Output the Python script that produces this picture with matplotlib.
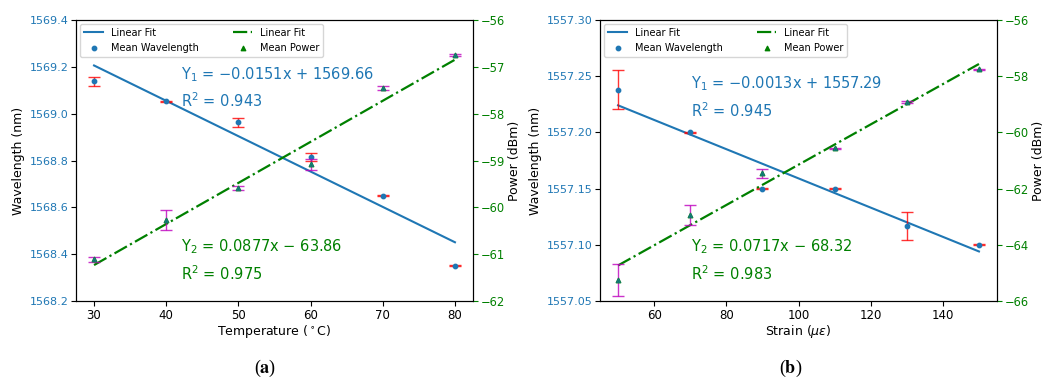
import numpy as np
import matplotlib
matplotlib.use("Agg")
import matplotlib.pyplot as plt
from matplotlib.ticker import FormatStrFormatter

# panel (a): temperature
temp = [30, 40, 50, 60, 70, 80]
wl_temp = [1569.138, 1569.053, 1568.963, 1568.815, 1568.650, 1568.351]
wl_temp_err = [0.018, 0.003, 0.018, 0.015, 0.003, 0.003]
pw_temp = [-61.11, -60.27, -59.58, -59.08, -57.45, -56.75]
pw_temp_err = [0.06, 0.22, 0.04, 0.12, 0.04, 0.02]
fit_wl_temp = (-0.0151, 1569.66)
fit_pw_temp = (0.0877, -63.86)

# panel (b): strain
strain = [50, 70, 90, 110, 130, 150]
wl_strain = [1557.238, 1557.200, 1557.150, 1557.150, 1557.1165, 1557.100]
wl_strain_err = [0.0175, 0.0004, 0.0004, 0.0004, 0.0125, 0.0004]
pw_strain = [-65.25, -62.94, -61.46, -60.57, -58.92, -57.76]
pw_strain_err = [0.57, 0.34, 0.16, 0.03, 0.03, 0.03]
fit_wl_strain = (-0.0013, 1557.29)
fit_pw_strain = (0.0717, -68.32)


def draw_panel(ax1, x, wl, wl_err, pw, pw_err, fit1, fit2, r1, r2,
               xlabel, wl_lim, wl_ticks, wl_fmt, pw_lim, pw_ticks, txt_x, txt1_y, txt2_y):
    x = np.array(x)
    ax2 = ax1.twinx()

    # fit lines from the printed regression, recentred on the data (printed intercept is rounded)
    wl_fit = fit1[0] * x + fit1[1]
    wl_fit = wl_fit - wl_fit.mean() + np.mean(wl)
    l1, = ax1.plot(x, wl_fit, color='C0', lw=1.5, label='Linear Fit')
    ax1.errorbar(x, wl, yerr=wl_err, fmt='none', ecolor='r', capsize=4, elinewidth=1, alpha=0.8)
    s1 = ax1.scatter(x, wl, s=10, color='C0', zorder=3, label='Mean Wavelength')

    pw_fit = fit2[0] * x + fit2[1]
    pw_fit = pw_fit - pw_fit.mean() + np.mean(pw)
    l2, = ax2.plot(x, pw_fit, color='green', ls='-.', lw=1.6, label='Linear Fit')
    ax2.errorbar(x, pw, yerr=pw_err, fmt='none', ecolor='m', capsize=4, elinewidth=1, alpha=0.8)
    s2 = ax2.scatter(x, pw, s=10, marker='^', color='green', zorder=3, label='Mean Power')
    ax2.scatter(x, pw, s=8, marker='^', color='C0', alpha=0.5, zorder=4)

    ax1.set_ylim(*wl_lim)
    ax1.set_yticks(wl_ticks)
    ax1.yaxis.set_major_formatter(FormatStrFormatter(wl_fmt))
    ax2.set_ylim(*pw_lim)
    ax2.set_yticks(pw_ticks)

    ax1.tick_params(axis='y', labelcolor='C0', labelsize=8, pad=2)
    ax1.tick_params(axis='x', labelsize=8.5, pad=2)
    ax2.tick_params(axis='y', colors='green', labelsize=8.3, pad=2)
    ax1.set_xlabel(xlabel, fontsize=9, labelpad=1)
    ax1.set_ylabel('Wavelength (nm)', fontsize=9, labelpad=3)
    ax2.set_ylabel('Power (dBm)', fontsize=9, labelpad=2)

    ax1.text(txt_x, txt1_y,
             r'Y$_1$ = $-$%.4fx + %.2f' % (abs(fit1[0]), fit1[1]) + '\n' + r'R$^2$ = %.3f' % r1,
             transform=ax1.transAxes, color='C0', fontsize=10.5, va='top', linespacing=1.5)
    ax1.text(txt_x, txt2_y,
             r'Y$_2$ = %.4fx $-$ %.2f' % (fit2[0], abs(fit2[1])) + '\n' + r'R$^2$ = %.3f' % r2,
             transform=ax1.transAxes, color='green', fontsize=10.5, va='top', linespacing=1.5)

    ax2.legend([l1, s1, l2, s2], ['Linear Fit', 'Mean Wavelength', 'Linear Fit', 'Mean Power'],
               loc='upper left', ncol=2, fontsize=7, columnspacing=3.5, borderaxespad=0.4)
    return ax2


fig = plt.figure(figsize=(10.51, 3.81), dpi=100)
axa = fig.add_axes([76 / 1051, 80 / 381, 397 / 1051, 281 / 381])
axb = fig.add_axes([600 / 1051, 80 / 381, 397 / 1051, 281 / 381])

draw_panel(axa, temp, wl_temp, wl_temp_err, pw_temp, pw_temp_err,
           fit_wl_temp, fit_pw_temp, 0.943, 0.975,
           r'Temperature ($^\circ$C)', (1568.2, 1569.4), np.arange(1568.2, 1569.41, 0.2), '%.1f',
           (-62, -56), np.arange(-62, -55, 1), 0.265, 0.84, 0.225)
draw_panel(axb, strain, wl_strain, wl_strain_err, pw_strain, pw_strain_err,
           fit_wl_strain, fit_pw_strain, 0.945, 0.983,
           r'Strain ($\mu\epsilon$)', (1557.05, 1557.30), np.arange(1557.05, 1557.301, 0.05), '%.2f',
           (-66, -56), np.arange(-66, -55, 2), 0.228, 0.805, 0.225)

fig.text(0.252, 0.034, r'($\mathbf{a}$)', ha='center', va='center', fontsize=13,
         family='Liberation Serif', math_fontfamily='stix')
fig.text(0.752, 0.034, r'($\mathbf{b}$)', ha='center', va='center', fontsize=13,
         family='Liberation Serif', math_fontfamily='stix')

fig.savefig('out.png', dpi=100)
